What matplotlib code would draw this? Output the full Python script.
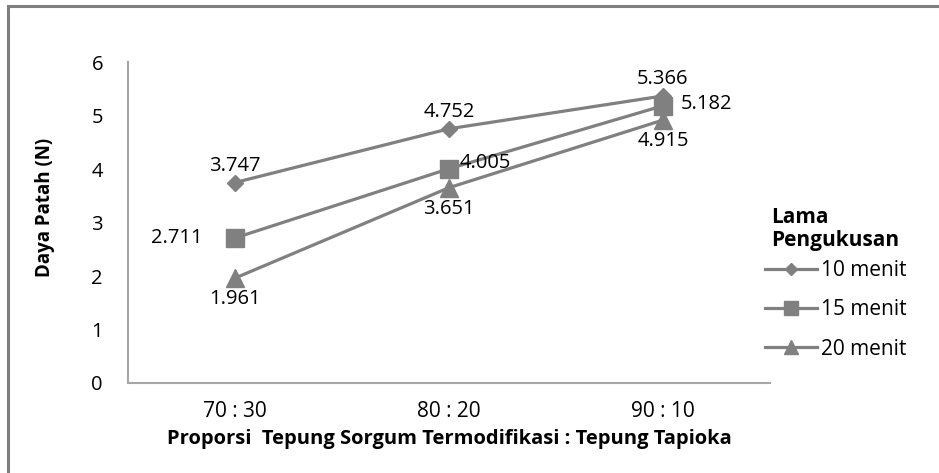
import matplotlib
matplotlib.use('Agg')
from matplotlib import pyplot as plt
from matplotlib.patches import Rectangle

# data
categories = ['70 : 30', '80 : 20', '90 : 10']
series_names = ['10 menit', '15 menit', '20 menit']
menit_10 = [3.747, 4.752, 5.366]
menit_15 = [2.711, 4.005, 5.182]
menit_20 = [1.961, 3.651, 4.915]

GRAY = '#808080'
plt.rcParams['font.family'] = ['Open Sans', 'DejaVu Sans']

fig = plt.figure(figsize=(9.39, 4.73), dpi=100)
# outer chart border (only top and left visible in the crop)
fig.patches.append(Rectangle((8 / 939, -0.1), 1.2, 1 - 6 / 473 + 0.1,
                             transform=fig.transFigure, fill=False,
                             edgecolor='#7f7f7f', linewidth=2.2))

ax = fig.add_axes([128 / 939, 1 - 383 / 473, (770 - 128) / 939, (383 - 62) / 473])
x = range(len(categories))

l1, = ax.plot(x, menit_10, color=GRAY, linewidth=2.3, marker='D', markersize=8.5,
              label=series_names[0], zorder=3)
l2, = ax.plot(x, menit_15, color=GRAY, linewidth=2.3, marker='s', markersize=13,
              label=series_names[1], zorder=3)
l3, = ax.plot(x, menit_20, color=GRAY, linewidth=2.3, marker='^', markersize=13,
              label=series_names[2], zorder=3)

# data labels
fs = 14.5
for i, v in enumerate(menit_10):
    ax.annotate(f'{v:.3f}', (i, v), xytext=(0, 12), textcoords='offset points',
                ha='center', va='center', fontsize=fs)
off_15 = [(-23, 0, 'right'), (8, 4, 'left'), (13, 1, 'left')]
for (dx, dy, ha), i, v in zip(off_15, x, menit_15):
    ax.annotate(f'{v:.3f}', (i, v), xytext=(dx, dy), textcoords='offset points',
                ha=ha, va='center', fontsize=fs)
for i, v in enumerate(menit_20):
    ax.annotate(f'{v:.3f}', (i, v), xytext=(0, -15), textcoords='offset points',
                ha='center', va='center', fontsize=fs)

ax.set_xlim(-0.5, 2.5)
ax.set_ylim(0, 6)
ax.set_xticks(list(x))
ax.set_xticklabels(categories, fontsize=15)
ax.set_yticks(range(0, 7))
ax.tick_params(axis='both', length=0)
ax.tick_params(axis='y', pad=18, labelsize=14.5)
ax.tick_params(axis='x', pad=13, labelsize=15)
for s in ['top', 'right']:
    ax.spines[s].set_visible(False)
for s in ['left', 'bottom']:
    ax.spines[s].set_color('#a6a6a6')
    ax.spines[s].set_linewidth(1.5)

ax.set_ylabel('Daya Patah (N)', fontsize=13.5, fontweight='bold')
ax.yaxis.set_label_coords(-0.113, 0.548)
ax.set_xlabel('Proporsi  Tepung Sorgum Termodifikasi : Tepung Tapioka',
              fontsize=14.5, fontweight='bold', labelpad=5)

# legend title drawn separately to match its spacing
fig.text(771 / 939, 1 - 207 / 473, 'Lama\nPengukusan', ha='left', va='top',
         fontsize=15, fontweight='bold', linespacing=1.15)
leg = ax.legend(handles=[l1, l2, l3], loc='upper left',
                bbox_to_anchor=(765 / 939, 1 - 260 / 473),
                bbox_transform=fig.transFigure, frameon=False, fontsize=15,
                handlelength=2.5, handletextpad=0.2, labelspacing=0.88,
                borderpad=0, borderaxespad=0)
for h, ms in zip(leg.legend_handles, [6.5, 10, 10]):
    h.set_markersize(ms)

fig.savefig('out.png', dpi=100)
